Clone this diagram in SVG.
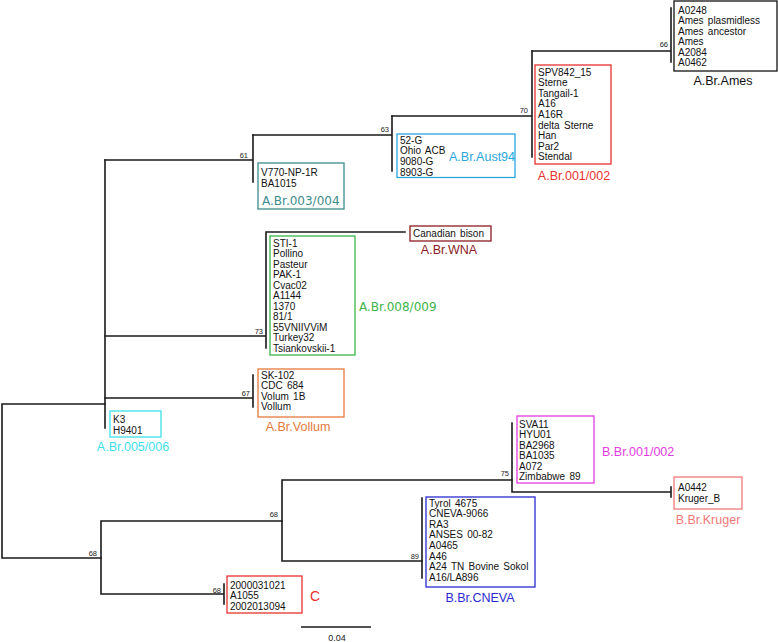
<svg xmlns="http://www.w3.org/2000/svg" width="778" height="642" viewBox="0 0 778 642">
<style>
.br{stroke:#1a1a1a;stroke-width:1.6;fill:none;stroke-linecap:square}
.leaf{font-family:"Liberation Sans",Arial,sans-serif;font-size:10px;fill:#111;word-spacing:1.5px}
.bs{font-family:"Liberation Sans",Arial,sans-serif;font-size:7.5px;fill:#222;text-anchor:end}
.lab{font-family:"Liberation Sans",Arial,sans-serif;font-size:12.5px}
.labd{font-family:"DejaVu Sans",sans-serif;font-size:12px}
.box{fill:#fff;stroke-width:1.3}
</style>
<rect width="778" height="642" fill="#fff"/>
<g id="connectors">
<path class="br" d="M2,404V558M2,404H105M2,558H101"/>
<path class="br" d="M105,160V428"/>
<path class="br" d="M105,160H253M253,135V182"/>
<path class="br" d="M253,135H392M392,116V171"/>
<path class="br" d="M392,116H532M532,51V157"/>
<path class="br" d="M532,51H671M671,8V62"/>
<path class="br" d="M105,336H266M266,232V348M266,232H405"/>
<path class="br" d="M105,398H253M253,375V407"/>
<path class="br" d="M101,521V594M101,521H282M101,594H224M224,584V604"/>
<path class="br" d="M282,480V561M282,480H512M282,561H422"/>
<path class="br" d="M512,423V492M512,492H671M671,487V497"/>
<path class="br" d="M422,498V578"/>
<line x1="301" y1="627" x2="371" y2="627" stroke="#1a1a1a" stroke-width="1.6"/>
<text x="337" y="641" text-anchor="middle" font-family="Liberation Sans, Arial, sans-serif" font-size="9" fill="#222">0.04</text>
</g>
<g id="bootstraps">
<text class="bs" x="668" y="47">66</text>
<text class="bs" x="528" y="112.5">70</text>
<text class="bs" x="389" y="132">63</text>
<text class="bs" x="248" y="157.5">61</text>
<text class="bs" x="263" y="334">73</text>
<text class="bs" x="250" y="396">67</text>
<text class="bs" x="509" y="476">75</text>
<text class="bs" x="278" y="517">68</text>
<text class="bs" x="419" y="559">89</text>
<text class="bs" x="221" y="592.5">68</text>
<text class="bs" x="97" y="556">68</text>
</g>
<g id="ames">
<rect class="box" x="674" y="1" width="103" height="70" stroke="#111"/>
<text class="leaf" x="678" y="13.5">A0248</text>
<text class="leaf" x="678" y="24">Ames plasmidless</text>
<text class="leaf" x="678" y="34.5">Ames ancestor</text>
<text class="leaf" x="678" y="45">Ames</text>
<text class="leaf" x="678" y="55.5">A2084</text>
<text class="leaf" x="678" y="66">A0462</text>
<text class="lab" x="723" y="84.5" text-anchor="middle" fill="#111">A.Br.Ames</text>
</g>
<g id="a001">
<rect class="box" x="535" y="65" width="76" height="99" stroke="#e8322e"/>
<text class="leaf" x="538" y="75.5">SPV842_15</text>
<text class="leaf" x="538" y="86.1">Sterne</text>
<text class="leaf" x="538" y="96.7">Tangail-1</text>
<text class="leaf" x="538" y="107.3">A16</text>
<text class="leaf" x="538" y="117.9">A16R</text>
<text class="leaf" x="538" y="128.5">delta Sterne</text>
<text class="leaf" x="538" y="139.1">Han</text>
<text class="leaf" x="538" y="149.7">Par2</text>
<text class="leaf" x="538" y="160.3">Stendal</text>
<text class="lab" x="574" y="179.5" text-anchor="middle" fill="#e8322e">A.Br.001/002</text>
</g>
<g id="aust94">
<rect class="box" x="397" y="134" width="118" height="43.5" stroke="#2aa6dc"/>
<text class="leaf" x="400" y="143.5">52-G</text>
<text class="leaf" x="400" y="154.2">Ohio ACB</text>
<text class="leaf" x="400" y="165">9080-G</text>
<text class="leaf" x="400" y="175.7">8903-G</text>
<text class="lab" x="449" y="160.5" fill="#2aa6dc" font-size="12">A.Br.Aust94</text>
</g>
<g id="a003">
<rect class="box" x="258" y="163" width="86" height="46" stroke="#3d8c8c"/>
<text class="leaf" x="261" y="176">V770-NP-1R</text>
<text class="leaf" x="261" y="187">BA1015</text>
<text class="labd" x="262" y="204.5" fill="#3d8c8c">A.Br.003/004</text>
</g>
<g id="wna">
<rect class="box" x="410" y="226" width="81" height="15" stroke="#8b1c24"/>
<text class="leaf" x="413" y="236.8">Canadian bison</text>
<text class="lab" x="449" y="253.5" text-anchor="middle" fill="#8b1c24">A.Br.WNA</text>
</g>
<g id="a008">
<rect class="box" x="270" y="236" width="85" height="119" stroke="#3cb54a"/>
<text class="leaf" x="273" y="246.5">STI-1</text>
<text class="leaf" x="273" y="257.05">Pollino</text>
<text class="leaf" x="273" y="267.6">Pasteur</text>
<text class="leaf" x="273" y="278.15">PAK-1</text>
<text class="leaf" x="273" y="288.7">Cvac02</text>
<text class="leaf" x="273" y="299.25">A1144</text>
<text class="leaf" x="273" y="309.8">1370</text>
<text class="leaf" x="273" y="320.35">81/1</text>
<text class="leaf" x="273" y="330.9">55VNIIVViM</text>
<text class="leaf" x="273" y="341.45">Turkey32</text>
<text class="leaf" x="273" y="352">Tsiankovskii-1</text>
<text class="labd" x="359" y="310.5" fill="#3cb54a">A.Br.008/009</text>
</g>
<g id="vollum">
<rect class="box" x="258" y="369" width="86" height="48" stroke="#e5793b"/>
<text class="leaf" x="261" y="378.5">SK-102</text>
<text class="leaf" x="261" y="389">CDC 684</text>
<text class="leaf" x="261" y="399.5">Volum 1B</text>
<text class="leaf" x="261" y="410">Vollum</text>
<text class="lab" x="298" y="430.5" text-anchor="middle" fill="#e5793b">A.Br.Vollum</text>
</g>
<g id="a005">
<rect class="box" x="110" y="411" width="51" height="26" stroke="#3ee0ec"/>
<text class="leaf" x="113" y="422.5">K3</text>
<text class="leaf" x="113" y="433.5">H9401</text>
<text class="lab" x="133" y="450.5" text-anchor="middle" fill="#3ee0ec">A.Br.005/006</text>
</g>
<g id="b001">
<rect class="box" x="517" y="416" width="77" height="67" stroke="#e23be0"/>
<text class="leaf" x="519" y="427.5">SVA11</text>
<text class="leaf" x="519" y="438">HYU01</text>
<text class="leaf" x="519" y="448.5">BA2968</text>
<text class="leaf" x="519" y="459">BA1035</text>
<text class="leaf" x="519" y="469.5">A072</text>
<text class="leaf" x="519" y="480">Zimbabwe 89</text>
<text class="lab" x="602" y="455.5" fill="#e23be0">B.Br.001/002</text>
</g>
<g id="kruger">
<rect class="box" x="674" y="477" width="68" height="32" stroke="#f07878"/>
<text class="leaf" x="678" y="490.5">A0442</text>
<text class="leaf" x="678" y="501.5">Kruger_B</text>
<text class="lab" x="708" y="523.5" text-anchor="middle" fill="#f07878">B.Br.Kruger</text>
</g>
<g id="cneva">
<rect class="box" x="426" y="497" width="109" height="90" stroke="#2a2ad0"/>
<text class="leaf" x="429" y="506.5">Tyrol 4675</text>
<text class="leaf" x="429" y="517.1">CNEVA-9066</text>
<text class="leaf" x="429" y="527.7">RA3</text>
<text class="leaf" x="429" y="538.3">ANSES 00-82</text>
<text class="leaf" x="429" y="548.9">A0465</text>
<text class="leaf" x="429" y="559.5">A46</text>
<text class="leaf" x="429" y="570.1">A24 TN Bovine Sokol</text>
<text class="leaf" x="429" y="580.7">A16/LA896</text>
<text class="lab" x="480" y="601.5" text-anchor="middle" fill="#2a2ad0">B.Br.CNEVA</text>
</g>
<g id="c">
<rect class="box" x="227" y="576" width="75" height="37" stroke="#e8322e"/>
<text class="leaf" x="230" y="588.5">2000031021</text>
<text class="leaf" x="230" y="599">A1055</text>
<text class="leaf" x="230" y="609.5">2002013094</text>
<text x="315" y="600.5" text-anchor="middle" font-family="Liberation Sans, Arial, sans-serif" font-size="14" fill="#e8322e">C</text>
</g>
</svg>
